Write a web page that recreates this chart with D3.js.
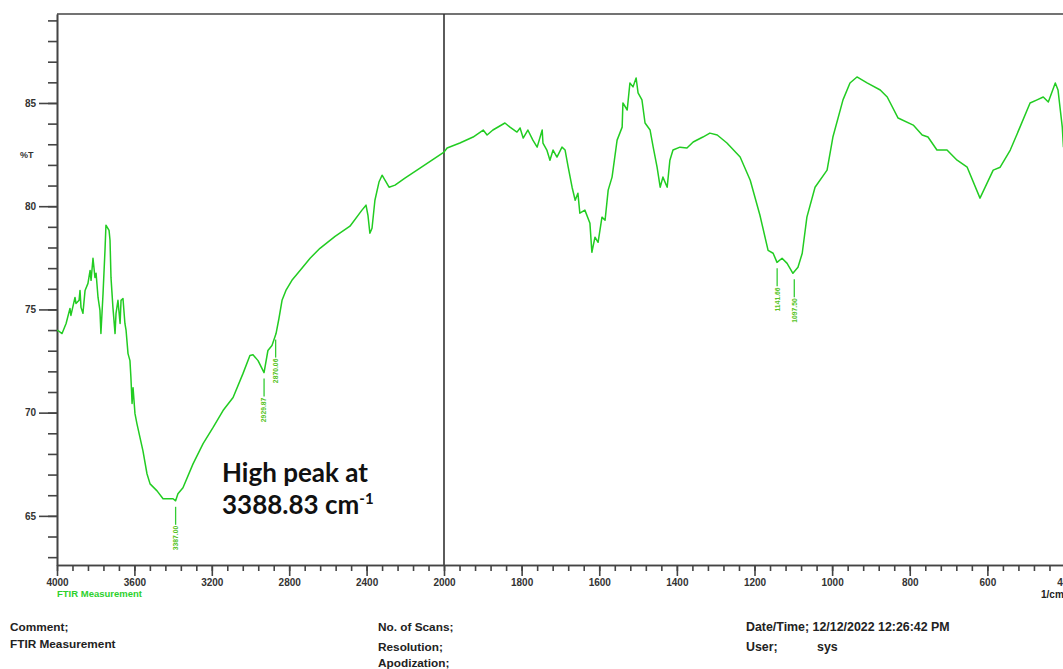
<!DOCTYPE html>
<html>
<head>
<meta charset="utf-8">
<script src="https://cdn.jsdelivr.net/npm/d3@7"></script>
<style>
body { margin: 0; background: #fff; }
svg { display: block; background: #fff; }
.axis path, .axis line { stroke: #444; stroke-width: 1.6; }
.axis text { font-family: "Liberation Sans", Arial, sans-serif; font-size: 10px; font-weight: bold; fill: #333; }
.info { font-family: "Liberation Sans", Arial, sans-serif; font-size: 11.8px; font-weight: bold; fill: #222; }
</style>
</head>
<body>
<svg width="1063" height="669"></svg>
<script>
// spectrum: wavenumber (1/cm) and %T
const wavenumbers = [
    4000, 3995, 3974, 3953, 3933, 3928, 3907, 3902, 3886, 3881, 3876, 3866, 3855, 3840, 3829, 3824,
    3814, 3804, 3798, 3788, 3778, 3773, 3762, 3752, 3747, 3731, 3726, 3721, 3711, 3700, 3695, 3685,
    3674, 3669, 3659, 3649, 3643, 3633, 3623, 3618, 3612, 3607, 3597, 3587, 3571, 3556, 3535, 3519,
    3483, 3452, 3400, 3387, 3375, 3349, 3297, 3245, 3194, 3142, 3090, 3039, 3003, 2987, 2961, 2930,
    2910, 2889, 2868, 2853, 2837, 2817, 2786, 2744, 2692, 2641, 2563, 2486, 2424, 2403, 2393, 2383,
    2372, 2357, 2336, 2320, 2305, 2284, 2253, 2202, 2124, 2062, 2000,
    1992, 1959, 1925, 1899, 1889, 1874, 1843, 1830, 1812, 1804, 1796, 1784, 1771, 1760, 1747, 1745,
    1735, 1727, 1719, 1709, 1696, 1688, 1680, 1670, 1662, 1655, 1650, 1637, 1624, 1619, 1611, 1603,
    1593, 1585, 1577, 1567, 1554, 1541, 1539, 1528, 1521, 1513, 1505, 1500, 1490, 1482, 1469, 1461,
    1451, 1443, 1436, 1425, 1418, 1410, 1392, 1374, 1358, 1333, 1315, 1296, 1271, 1237, 1211, 1186,
    1165, 1152, 1142, 1129, 1116, 1101, 1088, 1077, 1065, 1044, 1013, 998, 972, 954, 936, 910,
    876, 858, 830, 791, 768, 753, 730, 704, 678, 652, 619, 585, 567, 541, 516, 490,
    472, 456, 443, 425, 418, 407, 404
];
const transmittance = [
    73.98, 73.98, 73.83, 74.32, 75.05, 74.71, 75.58, 75.29, 75.44, 75.92, 75.10, 74.81, 75.92, 76.26, 76.89, 76.41,
    77.48, 76.55, 76.75, 75.58, 74.95, 73.83, 75.78, 77.86, 79.08, 78.83, 78.35, 76.55, 75.10, 73.83, 74.81, 75.44,
    74.32, 75.44, 75.53, 74.32, 73.98, 72.86, 72.52, 71.70, 70.44, 71.21, 69.95, 69.47, 68.79, 68.16, 67.04, 66.55,
    66.21, 65.83, 65.83, 65.73, 66.07, 66.36, 67.52, 68.50, 69.27, 70.10, 70.73, 71.89, 72.77, 72.80, 72.52, 71.94,
    73.01, 73.25, 73.83, 74.56, 75.44, 75.92, 76.41, 76.89, 77.48, 77.96, 78.54, 79.03, 79.81, 80.05, 79.56, 78.69,
    78.93, 80.29, 81.17, 81.50, 81.26, 80.92, 81.02, 81.36, 81.84, 82.23, 82.62,
    82.82, 83.06, 83.35, 83.69, 83.45, 83.69, 84.03, 83.83, 83.59, 83.79, 83.30, 83.69, 83.20, 82.86, 83.69, 83.06,
    82.72, 82.23, 82.72, 82.38, 82.86, 82.72, 81.89, 80.92, 80.29, 80.63, 79.66, 79.81, 79.17, 77.77, 78.50, 78.25,
    79.47, 79.32, 80.78, 81.41, 83.20, 83.83, 85.00, 84.66, 85.97, 85.78, 86.21, 85.49, 85.15, 84.03, 83.69, 82.86,
    81.89, 80.92, 81.41, 80.92, 82.23, 82.72, 82.86, 82.82, 83.11, 83.35, 83.54, 83.45, 83.06, 82.38, 81.26, 79.56,
    77.86, 77.72, 77.28, 77.48, 77.23, 76.75, 77.04, 77.72, 79.47, 80.92, 81.75, 83.35, 85.15, 85.97, 86.26, 85.97,
    85.63, 85.29, 84.27, 83.93, 83.45, 83.35, 82.72, 82.72, 82.23, 81.89, 80.39, 81.75, 81.89, 82.72, 83.83, 85.00,
    85.15, 85.29, 85.05, 85.97, 85.63, 83.83, 82.86
];

const peakWavenumbers = [3387.00, 2929.87, 2870.06, 1141.66, 1097.50];
const peakValues = [65.73, 71.94, 73.83, 77.28, 76.75];
const peakLabels = ['3387.00', '2929.87', '2870.06', '1141.66', '1097.50'];

const xMajorTicks = [4000, 3600, 3200, 2800, 2400, 2000, 1800, 1600, 1400, 1200, 1000, 800, 600, 400];
const yMajorTicks = [65, 70, 75, 80, 85];

const svg = d3.select('svg');

// x axis changes scale at 2000 1/cm (right half is expanded 2x)
const x = d3.scaleLinear()
    .domain([4000, 2000, 400])
    .range([57, 444, 1065]);

const y = d3.scaleLinear()
    .domain([62.62, 89.31])
    .range([565, 14]);

// frame
svg.append('line')
    .attr('x1', 57).attr('x2', 1065)
    .attr('y1', 14).attr('y2', 14)
    .style('stroke', '#444').style('stroke-width', 1.6);

svg.append('line')
    .attr('x1', x(2000)).attr('x2', x(2000))
    .attr('y1', 14).attr('y2', 565)
    .style('stroke', '#333').style('stroke-width', 1.6);

// minor ticks: every 80 on the left half, every 40 on the right
const xMinor = d3.range(4000, 2000, -80).concat(d3.range(2000, 399, -40));

svg.append('g')
    .attr('class', 'axis')
    .attr('transform', 'translate(0,565)')
    .call(d3.axisBottom(x).tickValues(xMinor).tickSize(6).tickSizeOuter(0).tickFormat(''));

svg.append('g')
    .attr('class', 'axis')
    .attr('transform', 'translate(0,565)')
    .call(d3.axisBottom(x).tickValues(xMajorTicks).tickSize(11).tickSizeOuter(0).tickPadding(3).tickFormat(d3.format('d')));

svg.append('g')
    .attr('class', 'axis')
    .attr('transform', 'translate(57,0)')
    .call(d3.axisLeft(y).tickValues(d3.range(63, 90)).tickSize(9).tickSizeOuter(0).tickFormat(''));

svg.append('g')
    .attr('class', 'axis')
    .attr('transform', 'translate(57,0)')
    .call(d3.axisLeft(y).tickValues(yMajorTicks).tickSize(18).tickSizeOuter(0).tickPadding(3));

svg.append('text')
    .attr('x', 20).attr('y', 158)
    .style('font-family', '"Liberation Sans", Arial, sans-serif')
    .style('font-size', '9px').style('font-weight', 'bold').style('fill', '#333')
    .text('%T');

// spectrum
const spectrum = d3.zip(wavenumbers, transmittance);

svg.append('path')
    .datum(spectrum)
    .attr('d', d3.line().x(d => x(d[0])).y(d => y(d[1])))
    .style('fill', 'none')
    .style('stroke', '#22cc22')
    .style('stroke-width', 1.5)
    .style('stroke-linejoin', 'round');

// peak picks
const peaks = svg.append('g').selectAll('g')
    .data(d3.zip(peakWavenumbers, peakValues, peakLabels))
    .join('g')
    .attr('transform', d => `translate(${x(d[0])},${y(d[1])})`);

peaks.append('line')
    .attr('x1', 0).attr('x2', 0)
    .attr('y1', 6).attr('y2', 24)
    .style('stroke', '#33cc33').style('stroke-width', 1.3);

peaks.append('text')
    .attr('transform', 'translate(0,25) rotate(-90)')
    .attr('text-anchor', 'end')
    .attr('dy', '0.35em')
    .style('font-family', '"Liberation Sans", Arial, sans-serif')
    .style('font-size', '6.8px')
    .style('font-weight', 'bold')
    .style('fill', '#55c322')
    .text(d => d[2]);

// annotation
const note = svg.append('text')
    .style('font-family', 'Lato, "Open Sans", sans-serif')
    .style('font-size', '26px')
    .style('font-weight', 'bold')
    .style('fill', '#111');
note.append('tspan').attr('x', 222).attr('y', 482).text('High peak at');
note.append('tspan').attr('x', 222).attr('y', 514).text('3388.83 cm');
note.append('tspan').attr('dy', -10).style('font-size', '15px').text('-1');

// footer texts
svg.append('text')
    .attr('x', 57).attr('y', 597)
    .style('font-family', '"Liberation Sans", Arial, sans-serif')
    .style('font-size', '9.5px').style('font-weight', 'bold').style('fill', '#2dd12d')
    .text('FTIR Measurement');

svg.append('text')
    .attr('x', 1041).attr('y', 598)
    .attr('class', 'info').style('font-size', '10px')
    .text('1/cm');

const info = [
    ['Comment;', 10, 631, 11.8],
    ['FTIR Measurement', 10, 648, 11.8],
    ['No. of Scans;', 378, 631, 11.8],
    ['Resolution;', 378, 651, 11.8],
    ['Apodization;', 378, 667, 11.8],
    ['Date/Time; 12/12/2022 12:26:42 PM', 746, 631, 12.4],
    ['User;', 746, 651, 12.4],
    ['sys', 817, 651, 12.4]
];

svg.append('g').selectAll('text')
    .data(info)
    .join('text')
    .attr('class', 'info')
    .attr('x', d => d[1])
    .attr('y', d => d[2])
    .style('font-size', d => d[3] + 'px')
    .text(d => d[0]);
</script>
</body>
</html>
